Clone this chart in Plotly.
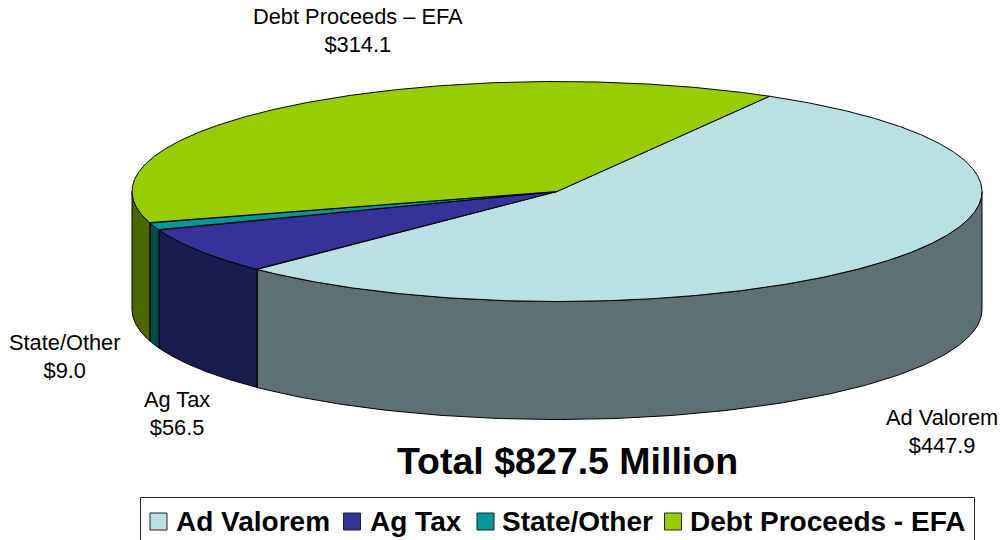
import numpy as np
import plotly.graph_objects as go

categories = ["Ad Valorem", "Ag Tax", "State/Other", "Debt Proceeds - EFA"]
values = [447.9, 56.5, 9.0, 314.1]
slice_labels = ["Ad Valorem", "Ag Tax", "State/Other", "Debt Proceeds – EFA"]
top_colors = ["#BBE0E3", "#333399", "#009999", "#99CC00"]
side_colors = ["#5E7072", "#1B1B4D", "#004D4D", "#4D6600"]
title_text = "Total $827.5 Million"

CX, CY, RX, RY, DEPTH = 557, 191.5, 425, 110, 118
START = 30.0
FONT = "Liberation Sans, Arial, sans-serif"


def pt(deg):
    r = np.radians(deg)
    return CX + RX * np.sin(r), CY - RY * np.cos(r)


total = sum(values)
edges = START + np.concatenate([[0], np.cumsum(values)]) / total * 360
fig = go.Figure()

# side walls: only the front half of the rim (90..270 deg clockwise from top)
for i in range(len(values)):
    for shift in (0, 360, -360):
        a = max(edges[i] + shift, 90)
        b = min(edges[i + 1] + shift, 270)
        if b <= a:
            continue
        t = np.linspace(a, b, 120)
        x, y = pt(t)
        xs = list(x) + list(x[::-1]) + [x[0]]
        ys = list(y) + list((y + DEPTH)[::-1]) + [y[0]]
        fig.add_trace(go.Scatter(x=xs, y=ys, mode="lines", fill="toself",
                                 fillcolor=side_colors[i],
                                 line=dict(color="black", width=1),
                                 showlegend=False, hoverinfo="skip"))

# top faces
for i in range(len(values)):
    t = np.linspace(edges[i], edges[i + 1], max(int(values[i] * 2), 30))
    x, y = pt(t)
    xs = [CX] + list(x) + [CX]
    ys = [CY] + list(y) + [CY]
    fig.add_trace(go.Scatter(x=xs, y=ys, mode="lines", fill="toself",
                             fillcolor=top_colors[i],
                             line=dict(color="black", width=1),
                             name=categories[i], showlegend=False, hoverinfo="skip"))

label_pos = [(941.5, 431), (176.5, 413), (64, 356.5), (358, 30.5)]
annotations = [
    dict(x=px, y=py, xref="x", yref="y", showarrow=False, align="center",
         text=f"{lab}<br>${v:.1f}", font=dict(family=FONT, size=21.8, color="black"))
    for (px, py), lab, v in zip(label_pos, slice_labels, values)
]
annotations.append(dict(x=567.5, y=461, xref="x", yref="y", showarrow=False,
                        text=f"<b>{title_text}</b>",
                        font=dict(family=FONT, size=37.5, color="black")))

# legend box, swatches and texts
swatch_x = [158.5, 352, 485.5, 673]
text_x = [174, 367.5, 500, 688]
LEG_Y = 521.5
fig.add_trace(go.Scatter(x=swatch_x, y=[LEG_Y] * 4, mode="markers", showlegend=False,
                         hoverinfo="skip",
                         marker=dict(symbol="square", size=17, color=top_colors,
                                     line=dict(color="#222222", width=1))))
for tx, c in zip(text_x, categories):
    annotations.append(dict(x=tx, y=LEG_Y, xref="x", yref="y", xanchor="left",
                            showarrow=False, text=f"<b>{c}</b>",
                            font=dict(family=FONT, size=28, color="black")))

fig.update_layout(
    width=1000, height=540,
    margin=dict(l=0, r=0, t=0, b=0),
    paper_bgcolor="white", plot_bgcolor="white",
    xaxis=dict(range=[0, 1000], visible=False, fixedrange=True),
    yaxis=dict(range=[540, 0], visible=False, fixedrange=True),
    annotations=annotations,
    showlegend=False,
    shapes=[dict(type="rect", xref="x", yref="y", x0=140.5, x1=974.5, y0=497.5, y1=548,
                 line=dict(color="#222222", width=1), layer="below")],
)
fig.write_html("out.html", config=dict(displayModeBar=False),
               post_script="document.body.style.margin='0';document.body.style.overflow='hidden';")
